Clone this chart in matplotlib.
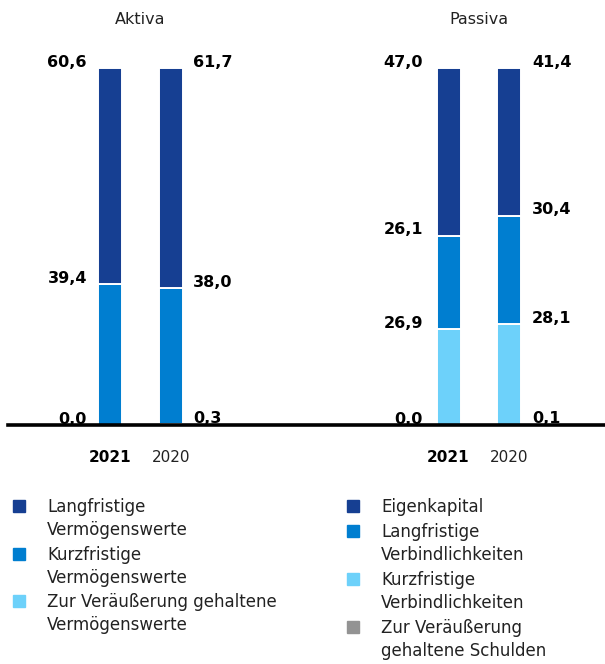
import matplotlib.pyplot as plt
from matplotlib.patches import Rectangle

plt.rcParams['font.family'] = ['DejaVu Sans']

# data (percent of balance sheet total)
years = ["2021", "2020"]
aktiva_names = ["Zur Veräußerung gehaltene\nVermögenswerte", "Kurzfristige\nVermögenswerte", "Langfristige\nVermögenswerte"]
aktiva_vals = [[0.0, 0.3], [39.4, 38.0], [60.6, 61.7]]
passiva_names = ["Zur Veräußerung\ngehaltene Schulden", "Kurzfristige\nVerbindlichkeiten", "Langfristige\nVerbindlichkeiten", "Eigenkapital"]
passiva_vals = [[0.0, 0.1], [26.9, 28.1], [26.1, 30.4], [47.0, 41.4]]

aktiva_colors = ["#6DD1FA", "#007ED0", "#163F92"]
passiva_colors = ["#939393", "#6DD1FA", "#007ED0", "#163F92"]

W, H = 605, 664
fig = plt.figure(figsize=(W / 100, H / 100), dpi=100)
ax = fig.add_axes([8 / W, (H - 425) / H, (W - 8) / W, 357 / H])
ax.set_xlim(8, W)
ax.set_ylim(0, 100)
for s in ["top", "left", "right"]:
    ax.spines[s].set_visible(False)
ax.spines["bottom"].set_linewidth(2.6)
ax.spines["bottom"].set_zorder(5)
ax.set_xticks([])
ax.set_yticks([])


def draw_group(centers, names, vals, colors, lab_left, lab_right):
    bottoms = [0.0, 0.0]
    for k in range(len(names)):
        v = vals[k]
        ax.bar(centers, v, width=24, bottom=bottoms, color=colors[k],
               edgecolor="white", linewidth=1.4)
        for j in range(2):
            top = bottoms[j] + v[j]
            txt = f"{v[j]:.1f}".replace(".", ",")
            if j == 0:
                ax.annotate(txt, (lab_left, top), xytext=(0, 1), textcoords="offset points",
                            ha="right", va="baseline", fontsize=11.5, fontweight="bold")
            else:
                ax.annotate(txt, (lab_right, top), xytext=(0, 1), textcoords="offset points",
                            ha="left", va="baseline", fontsize=11.5, fontweight="bold")
        bottoms = [bottoms[j] + v[j] for j in range(2)]


draw_group([110, 171], aktiva_names, aktiva_vals, aktiva_colors, 87, 193)
draw_group([448.5, 509], passiva_names, passiva_vals, passiva_colors, 423, 532)

# titles and year labels
fig.text(140.5 / W, 1 - 19 / H, "Aktiva", ha="center", va="center", fontsize=11.5, color="#222222")
fig.text(478.5 / W, 1 - 19 / H, "Passiva", ha="center", va="center", fontsize=11.5, color="#222222")
for cx in [(110, 171), (448.5, 509)]:
    fig.text(cx[0] / W, 1 - 458 / H, years[0], ha="center", va="center", fontsize=11, fontweight="bold")
    fig.text(cx[1] / W, 1 - 458 / H, years[1], ha="center", va="center", fontsize=11, color="#222222")


def legend_item(x, y, color, label):
    fig.patches.append(Rectangle(((x) / W, 1 - (y + 6) / H), 12 / W, 12 / H,
                                 transform=fig.transFigure, color=color))
    fig.text((x + 34) / W, 1 - (y - 8) / H, label, ha="left", va="top",
             fontsize=12, color="#222222", linespacing=1.35)


for lab, col, y in zip(aktiva_names[::-1], aktiva_colors[::-1], [506, 554, 601]):
    legend_item(13, y, col, lab)
for lab, col, y in zip(passiva_names[::-1], passiva_colors[::-1], [506, 531, 579, 627]):
    legend_item(347, y, col, lab)

fig.savefig("out.png", dpi=100)
